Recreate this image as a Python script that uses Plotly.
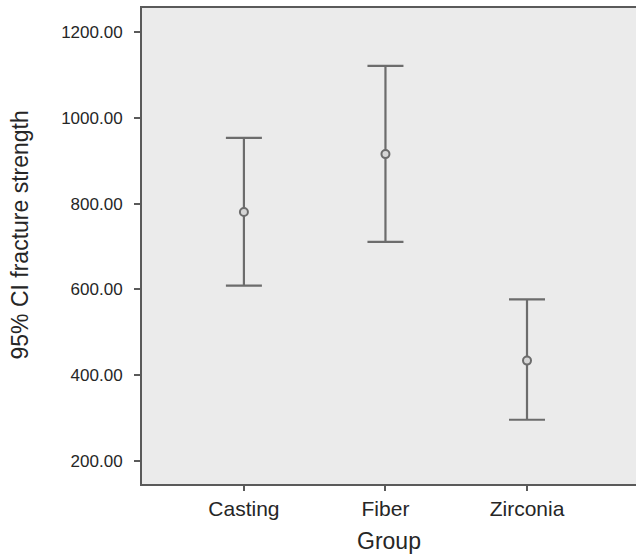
import plotly.graph_objects as go

groups = ["Casting", "Fiber", "Zirconia"]
means = [781, 916, 434]
upper = [954, 1122, 577]
lower = [609, 711, 296]
y_ticks = [200, 400, 600, 800, 1000, 1200]
y_tick_labels = ["200.00", "400.00", "600.00", "800.00", "1000.00", "1200.00"]

err_plus = [u - m for u, m in zip(upper, means)]
err_minus = [m - l for m, l in zip(means, lower)]

line_col = "#6c6c6c"
axis_col = "#5a5a5a"
font_fam = "Liberation Sans, Arial, Helvetica, sans-serif"

fig = go.Figure()
fig.add_trace(go.Scatter(
    x=[0, 1, 2],
    y=means,
    mode="markers",
    marker=dict(symbol="circle", size=8, color="#d6d6d6",
                line=dict(color=line_col, width=2)),
    error_y=dict(type="data", symmetric=False, array=err_plus, arrayminus=err_minus,
                 color=line_col, thickness=2.2, width=18),
    showlegend=False,
    hoverinfo="skip",
))

fig.add_annotation(
    text="95% CI fracture strength",
    xref="paper", yref="paper",
    x=-122 / 494, y=0.522,
    xanchor="center", yanchor="middle",
    textangle=-90, showarrow=False,
    font=dict(size=23, color="#262626"),
)

fig.update_layout(
    width=636, height=554,
    margin=dict(l=142, r=0, t=8, b=70),
    paper_bgcolor="white",
    plot_bgcolor="#ebebeb",
    font=dict(family=font_fam, color="#262626"),
    xaxis=dict(
        range=[-0.72, 2.77],
        tickmode="array", tickvals=[0, 1, 2], ticktext=groups,
        showgrid=False, zeroline=False,
        showline=True, linecolor=axis_col, linewidth=2, mirror=True,
        ticks="outside", ticklen=5, tickwidth=2, tickcolor=axis_col,
        tickfont=dict(size=21),
        title=dict(text="Group", font=dict(size=23), standoff=14),
    ),
    yaxis=dict(
        range=[146, 1257],
        tickmode="array", tickvals=y_ticks, ticktext=y_tick_labels,
        showgrid=False, zeroline=False,
        showline=True, linecolor=axis_col, linewidth=2,
        ticks="outside", ticklen=6, tickwidth=2, tickcolor=axis_col,
        tickfont=dict(size=17),
        ticklabelstandoff=8,
    ),
)

fig.write_html(
    "out.html",
    config={"displayModeBar": False},
    post_script="document.body.style.margin='0';document.body.style.padding='0';",
)
